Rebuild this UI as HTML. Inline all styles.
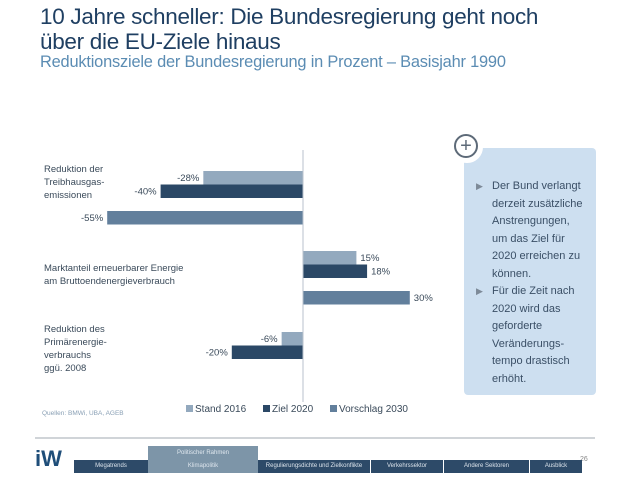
<!DOCTYPE html>
<html><head><meta charset="utf-8"><style>
body{margin:0;width:638px;height:479px;background:#fff;font-family:"Liberation Sans",sans-serif;position:relative;overflow:hidden}
.abs{position:absolute}
</style></head><body>
<div class="abs" style="left:40px;top:4px;font-size:22.5px;line-height:25px;color:#1f3f62;letter-spacing:-0.3px">10 Jahre schneller: Die Bundesregierung geht noch<br>über die EU-Ziele hinaus</div>
<div class="abs" style="left:40px;top:53px;font-size:16.4px;color:#5b8cb3;letter-spacing:-0.2px">Reduktionsziele der Bundesregierung in Prozent – Basisjahr 1990</div>

<svg class="abs" style="left:0;top:0" width="638" height="479">
<g id="bars"></g>
<line x1="303" y1="150" x2="303" y2="402" stroke="#b8c2cc" stroke-width="1"/>
<g font-size="9.5" fill="#3a4a5a" font-family="Liberation Sans, sans-serif">
<text x="44" y="172"><tspan x="44">Reduktion der</tspan><tspan x="44" dy="13">Treibhausgas-</tspan><tspan x="44" dy="13">emissionen</tspan></text>
<text x="44" y="271"><tspan x="44">Marktanteil erneuerbarer Energie</tspan><tspan x="44" dy="13">am Bruttoendenergieverbrauch</tspan></text>
<text x="44" y="332"><tspan x="44">Reduktion des</tspan><tspan x="44" dy="13">Primärenergie-</tspan><tspan x="44" dy="13">verbrauchs</tspan><tspan x="44" dy="13">ggü. 2008</tspan></text>
</g>
<text x="42" y="415" font-size="6.5" fill="#8aa0b5">Quellen: BMWi, UBA, AGEB</text>
<g font-size="10" fill="#3a4a5a" id="legend"></g>
<line x1="35" y1="438" x2="595" y2="438" stroke="#a0a8b0" stroke-width="1"/>
<text x="35" y="466" font-size="22" font-weight="bold" fill="#1f4e79" font-family="Liberation Sans, sans-serif">iW</text>
<text x="580" y="461" font-size="7" fill="#888">26</text>
</svg>

<div class="abs" style="left:464px;top:148px;width:132px;height:247px;background:#cddff0;border-radius:4px"></div>
<div class="abs" style="left:451px;top:131px;width:26px;height:26px;border-radius:50%;background:#fff;border:3px solid #fff"><div style="width:20px;height:20px;border:2.5px solid #5d6a78;border-radius:50%;text-align:center;line-height:20px;font-size:20px;color:#5d6a78">+</div></div>
<div class="abs" style="left:476px;top:178px;width:108px;font-size:11px;line-height:17.5px;color:#3a4f66">
<div style="position:relative;padding-left:16px"><span style="position:absolute;left:0;color:#7d8a98;font-size:9px">▶</span>Der Bund verlangt derzeit zusätzliche Anstrengungen, um das Ziel für 2020 erreichen zu können.</div>
<div style="position:relative;padding-left:16px"><span style="position:absolute;left:0;color:#7d8a98;font-size:9px">▶</span>Für die Zeit nach 2020 wird das geforderte Veränderungs-tempo drastisch erhöht.</div>
</div>

<div class="abs" style="left:148px;top:446px;width:110px;height:14px;background:#7d95a8;color:#e0e8ef;font-size:6px;text-align:center;line-height:14px">Politischer Rahmen</div>
<div class="abs" style="left:74px;top:460px;width:508px;height:13px;display:flex;font-size:6px;color:#dce4ec;line-height:13px">
<div style="width:74px;background:#2d4a68;text-align:center">Megatrends</div>
<div style="width:110px;background:#7d95a8;text-align:center">Klimapolitik</div>
<div style="width:113px;background:#2d4a68;text-align:center;border-right:1px solid #fff;box-sizing:border-box">Regulierungsdichte und Zielkonflikte</div>
<div style="width:73px;background:#2d4a68;text-align:center;border-right:1px solid #fff;box-sizing:border-box">Verkehrssektor</div>
<div style="width:86px;background:#2d4a68;text-align:center;border-right:1px solid #fff;box-sizing:border-box">Andere Sektoren</div>
<div style="width:52px;background:#2d4a68;text-align:center">Ausblick</div>
</div>

<script>
const series = ["Stand 2016","Ziel 2020","Vorschlag 2030"];
const stand2016 = [-28, 15, -6];
const ziel2020 = [-40, 18, -20];
const vorschlag2030 = [-55, 30, null];
const colors = ["#93a9be","#2b4866","#627f9c"];
const x0 = 303, pxPer = 3.56;
const xs = v => x0 + v*pxPer;
const groupTop = [171, 251, 332];
const offsets = [0, 13.5, 40];
const NS="http://www.w3.org/2000/svg";
const g=document.getElementById('bars');
[stand2016, ziel2020, vorschlag2030].forEach((arr,si)=>{
  arr.forEach((v,ci)=>{
    if(v===null) return;
    const y=groupTop[ci]+offsets[si];
    const r=document.createElementNS(NS,'rect');
    r.setAttribute('x',Math.min(xs(v),x0));
    r.setAttribute('y',y);
    r.setAttribute('width',Math.abs(xs(v)-x0));
    r.setAttribute('height',13.5);
    r.setAttribute('fill',colors[si]);
    
    
    g.appendChild(r);
    const t=document.createElementNS(NS,'text');
    t.setAttribute('x', v<0 ? xs(v)-4 : xs(v)+4);
    t.setAttribute('y', y+10);
    t.setAttribute('text-anchor', v<0?'end':'start');
    t.setAttribute('font-size','9.5');
    t.setAttribute('fill','#3a4a5a');
    t.textContent=v+'%';
    
    
    g.appendChild(t);
  });
});
const lg=document.getElementById('legend');
const lx=[186,263,330];
series.forEach((s,i)=>{
  const r=document.createElementNS(NS,'rect');
  r.setAttribute('x',lx[i]);r.setAttribute('y',405);r.setAttribute('width',7);r.setAttribute('height',7);r.setAttribute('fill',colors[i]);
  
  
  lg.appendChild(r);
  const t=document.createElementNS(NS,'text');
  t.setAttribute('x',lx[i]+9);t.setAttribute('y',412);t.textContent=s;
  
  
  lg.appendChild(t);
});
</script>
</body></html>
